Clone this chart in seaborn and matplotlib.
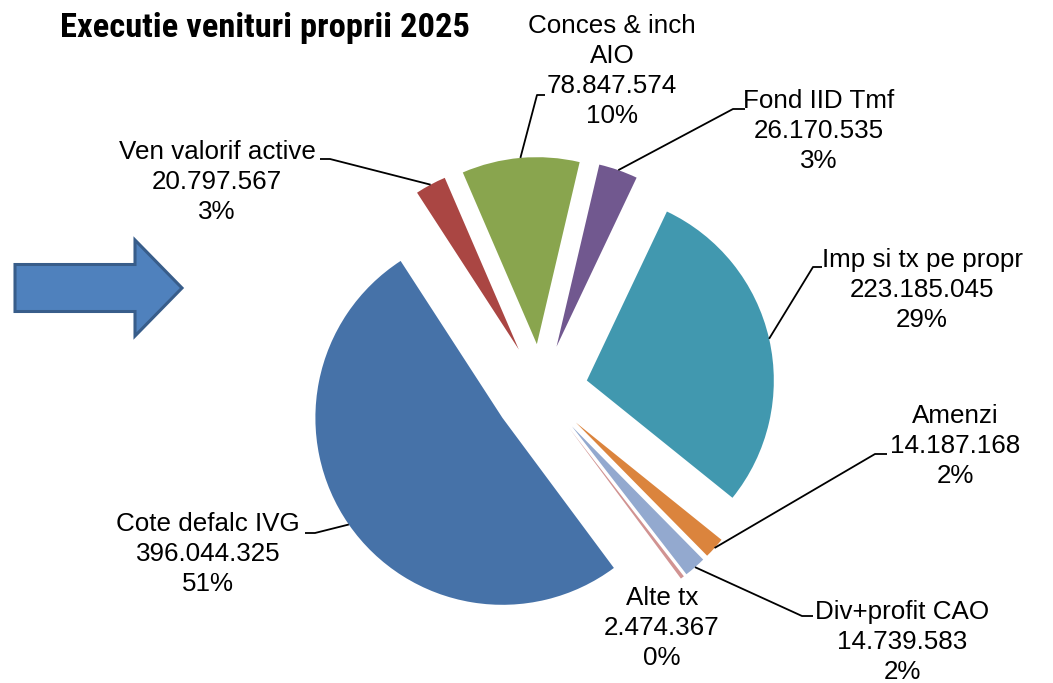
"""
Executie venituri proprii 2025 - exploded pie with leader labels.
"""

import numpy as np
import matplotlib
matplotlib.use('Agg')
import matplotlib.pyplot as plt
from matplotlib.patches import FancyArrow
import seaborn as sns

# ── data ─────────────────────────────────────────────────────────────────────
categories = ['Cote defalc IVG', 'Ven valorif active', 'Conces & inch AIO', 'Fond IID Tmf',
              'Imp si tx pe propr', 'Amenzi', 'Div+profit CAO', 'Alte tx']
display_names = ['Cote defalc IVG', 'Ven valorif active', 'Conces & inch\nAIO', 'Fond IID Tmf',
                 'Imp si tx pe propr', 'Amenzi', 'Div+profit CAO', 'Alte tx']
values = [396044325, 20797567, 78847574, 26170535, 223185045, 14187168, 14739583, 2474367]
slice_colors = ['#4672A8', '#AA4643', '#89A54E', '#71588F', '#4198AF', '#DB843D', '#93A9CF', '#D19392']

# ── layout (figure pixels, y measured from top) ──────────────────────────────
W, H = 1053, 683
CX, CY, R, EXPL = 541, 391, 187, 47
label_xy = [(208, 554), (217, 182), (612, 71), (819, 131),
            (922, 290), (955, 446), (902, 642), (662, 628)]
# (text end x, elbow x, y) of leader; None = no leader
leaders = [(305, 315, 533), (320, 330, 159), (545, 537, 95), (745, 733, 109),
           (822, 813, 267), (887, 875, 454), (813, 802, 616), None]

sns.set_theme(style='white')
plt.rcParams['font.family'] = ['Liberation Sans', 'DejaVu Sans']

fig = plt.figure(figsize=(W / 100, H / 100), dpi=100)
ax = fig.add_axes([0, 0, 1, 1])

wedges, _ = ax.pie(values, center=(CX, H - CY), radius=R, explode=[EXPL] * len(values),
                   startangle=90 - 143.4, counterclock=False,
                   colors=sns.color_palette(slice_colors), wedgeprops=dict(linewidth=0))
ax.set_xlim(0, W)
ax.set_ylim(0, H)
ax.set_aspect('equal')
ax.axis('off')

total = sum(values)
for i, w in enumerate(wedges):
    txt = f"{display_names[i]}\n{values[i]:,}".replace(',', '.') + f"\n{round(values[i] / total * 100):.0f}%"
    lx, ly = label_xy[i]
    ax.text(lx, H - ly, txt, ha='center', va='center', fontsize=18.7,
            linespacing=1.31, color='black')
    if leaders[i] is None:
        continue
    tm = np.deg2rad((w.theta1 + w.theta2) / 2)
    ax_x = w.center[0] + w.r * np.cos(tm)
    ax_y = w.center[1] + w.r * np.sin(tm)
    ex, bx, by = leaders[i]
    ax.plot([ax_x, bx, ex], [ax_y, H - by, H - by], color='black', lw=1.3,
            solid_capstyle='butt')

# arrow on the left
ax.add_patch(FancyArrow(15, H - 288, 167, 0, width=47, head_width=96, head_length=47,
                        length_includes_head=True, facecolor='#4F81BD',
                        edgecolor='#385D8A', linewidth=2.2))

fig.text(60 / W, 1 - 28 / H, 'Executie venituri proprii 2025', ha='left', va='center',
         fontsize=24.8, fontweight='bold', fontstretch='condensed', color='black',
         family=['Roboto Condensed', 'DejaVu Sans'])

fig.savefig('out.png', dpi=100)
